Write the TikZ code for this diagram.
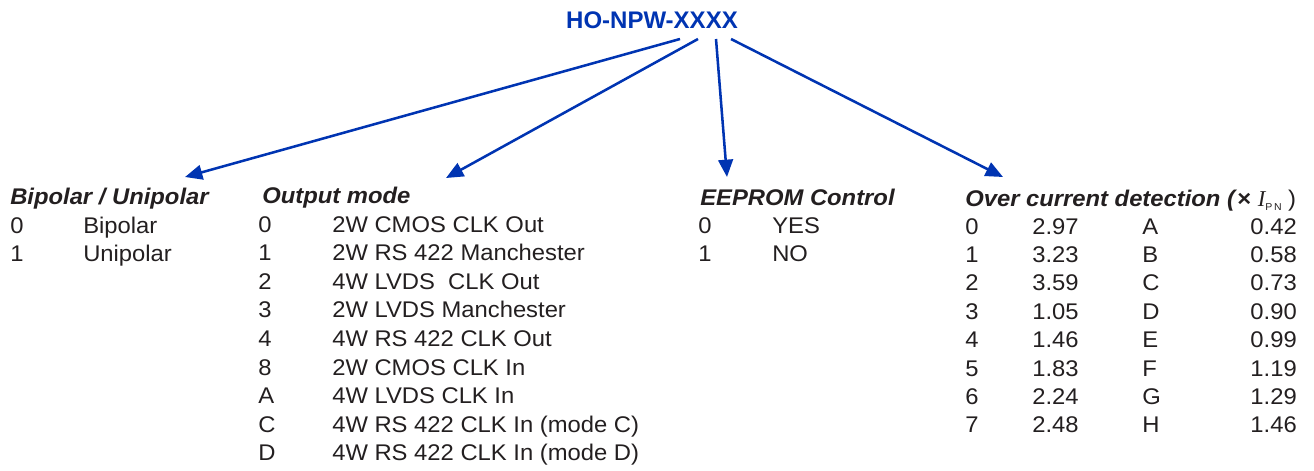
\documentclass[tikz,border=0pt]{standalone}
\usepackage{fontspec}
\setmainfont{Liberation Sans}[FakeStretch=1.05]
\newfontfamily\titlefont{Liberation Sans}
\newfontfamily\serifI{Liberation Serif}
\usetikzlibrary{arrows.meta}
\definecolor{bluec}{RGB}{0,52,178}
\definecolor{textc}{RGB}{35,31,32}
\tikzset{
  txt/.style={anchor=base west, inner sep=0pt, text=textc, font=\fontsize{17}{17}\selectfont},
  rtxt/.style={txt, anchor=base east},
  head/.style={txt, font=\fontsize{17}{17}\selectfont\bfseries\itshape},
  arr/.style={draw=bluec, line width=1.9pt, -{Triangle[length=13pt,width=11pt]}},
}
\begin{document}
\begin{tikzpicture}[x=0.75pt,y=-0.75pt]
\useasboundingbox (0,0) rectangle (1314,471);
% title
\node[anchor=base, inner sep=0pt, text=bluec, font=\titlefont\fontsize{18}{18}\selectfont\bfseries] (title) at (652,28) {HO-NPW-XXXX};
\coordinate (s1) at (680,39);
\coordinate (s2) at (698,39);
\coordinate (s3) at (716,39);
\coordinate (s4) at (731,39);
\coordinate (e1) at (185,177);
\coordinate (e2) at (446,178);
\coordinate (e3) at (727,177);
\coordinate (e4) at (1003,177);
\draw[arr] (s1) -- (e1);
\draw[arr] (s2) -- (e2);
\draw[arr] (s3) -- (e3);
\draw[arr] (s4) -- (e4);
% headings
\node[head] (hb) at (10,204) {Bipolar / Unipolar};
\node[head] (ho) at (262,203) {Output mode};
\node[head] (he) at (700,205) {EEPROM Control};
\node[head] (hc) at (965,206) {Over current detection (\textup{×} {\serifI\mdseries\itshape I}\raisebox{-3pt}{\fontsize{7.5}{7.5}\selectfont\mdseries\upshape P\,N}\ {\mdseries\upshape )}};
% Bipolar
\foreach \k/\c/\t in {0/0/Bipolar,1/1/Unipolar}{
  \node[txt] (bc\k) at (10,{233+28.6*\k}) {\c};
  \node[txt] (bt\k) at (83,{233+28.6*\k}) {\t};
}
% Output mode
\foreach \k/\c/\t in {0/0/2W CMOS CLK Out,1/1/2W RS 422 Manchester,2/2/4W LVDS\ \ CLK Out,3/3/2W LVDS Manchester,4/4/4W RS 422 CLK Out,5/8/2W CMOS CLK In,6/A/4W LVDS CLK In,7/C/4W RS 422 CLK In (mode C),8/D/4W RS 422 CLK In (mode D)}{
  \node[txt] (oc\k) at (258,{232+28.6*\k}) {\c};
  \node[txt] (ot\k) at (332,{232+28.6*\k}) {\t};
}
% EEPROM
\foreach \k/\c/\t in {0/0/YES,1/1/NO}{
  \node[txt] (ec\k) at (698,{233+28.6*\k}) {\c};
  \node[txt] (et\k) at (772,{233+28.6*\k}) {\t};
}
% Over current
\foreach \k/\a/\b/\c/\d in {0/0/2.97/A/0.42,1/1/3.23/B/0.58,2/2/3.59/C/0.73,3/3/1.05/D/0.90,4/4/1.46/E/0.99,5/5/1.83/F/1.19,6/6/2.24/G/1.29,7/7/2.48/H/1.46}{
  \node[txt] (ca\k) at (965,{234+28.4*\k}) {\a};
  \node[txt] (cb\k) at (1032,{234+28.4*\k}) {\b};
  \node[txt] (cc\k) at (1142,{234+28.4*\k}) {\c};
  \node[rtxt] (cd\k) at (1297,{234+28.4*\k}) {\d};
}
\end{tikzpicture}
\end{document}
